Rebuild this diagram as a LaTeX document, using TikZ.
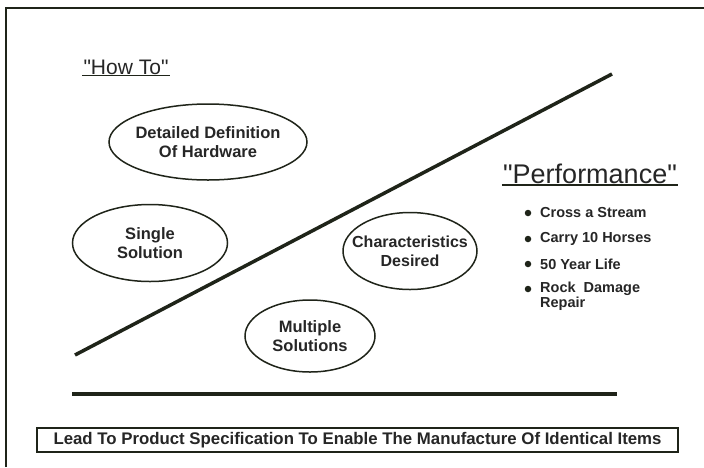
\documentclass[tikz,border=0pt]{standalone}
\usepackage{fontspec}
\setmainfont{Liberation Sans}
\definecolor{ink}{HTML}{1F2419}
\definecolor{type}{HTML}{262626}
\tikzset{
  frame/.style={draw=ink, line width=1.4pt},
  bar/.style={draw=ink, line width=4pt},
  ring/.style={draw=ink, line width=1.5pt},
  oval/.style={text=type, inner sep=0pt,
    font=\bfseries\fontsize{16.5}{19}\selectfont, align=center},
  head/.style={text=type, inner sep=1pt},
  uline/.style={draw=ink, line width=1.6pt},
  dot/.style={circle, fill=ink, inner sep=0pt, minimum size=6.5pt},
  item/.style={anchor=west, text=type, inner sep=0pt, align=left,
    font=\bfseries\fontsize{14.5}{13.5}\selectfont},
  banner/.style={draw=ink, line width=2pt, text=type, inner sep=0pt,
    font=\bfseries\fontsize{16.8}{18}\selectfont, minimum width=641pt, minimum height=24pt},
}
\begin{document}
\begin{tikzpicture}[x=1pt,y=-1pt]
  \useasboundingbox (0,0) rectangle (704,467);
  \fill[white] (0,0) rectangle (704,467);

  % page frame, top and left edge only
  \draw[frame] (6,467) -- (6,8) -- (704,8);

  % dividing line and base bar
  \coordinate (lo) at (75,355);
  \coordinate (hi) at (612,74);
  \draw[bar, line width=3.5pt] (lo) -- (hi);
  \coordinate (bl) at (72,394);
  \coordinate (br) at (617,394);
  \draw[bar, line width=4.5pt] (bl) -- (br);

  % headings
  \node[head, font=\fontsize{21}{24}\selectfont] (howto) at (126,67)
    {\textquotedbl How To\textquotedbl};
  \draw[uline] (howto.south west) -- (howto.south east);
  \node[head, font=\fontsize{27}{30}\selectfont] (perf) at (590,174)
    {\textquotedbl Performance\textquotedbl};
  \draw[uline, line width=2pt] (perf.south west) -- (perf.south east);

  % the four ovals
  \node[oval] (hw) at (208,142) {Detailed Definition\\Of Hardware};
  \draw[ring] (hw.center) ellipse [x radius=99pt, y radius=38pt];
  \node[oval] (single) at (150,243) {Single\\Solution};
  \draw[ring] (single.center) ellipse [x radius=77.5pt, y radius=38.5pt];
  \node[oval, font=\bfseries\fontsize{16}{19}\selectfont] (charc) at (410,251)
    {Characteristics\\Desired};
  \draw[ring] (charc.center) ellipse [x radius=67pt, y radius=38.5pt];
  \node[oval] (multi) at (310,336) {Multiple\\Solutions};
  \draw[ring] (multi.center) ellipse [x radius=65pt, y radius=36pt];

  % performance list
  \node[dot] (d1) at (528,213) {};
  \node[item] (i1) at (540,213) {Cross a Stream};
  \node[dot] (d2) at (528,239) {};
  \node[item] (i2) at (540,239) {Carry 10 Horses};
  \node[dot] (d3) at (528,264) {};
  \node[item] (i3) at (540,264) {50 Year Life};
  \node[dot] (d4) at (528,289) {};
  \node[item] (i4) at (540,296.5) {Rock\ \ Damage\\Repair};

  % bottom statement
  \node[banner] (spec) at (357.5,440)
    {Lead To Product Specification To Enable The Manufacture Of Identical Items};
\end{tikzpicture}
\end{document}
